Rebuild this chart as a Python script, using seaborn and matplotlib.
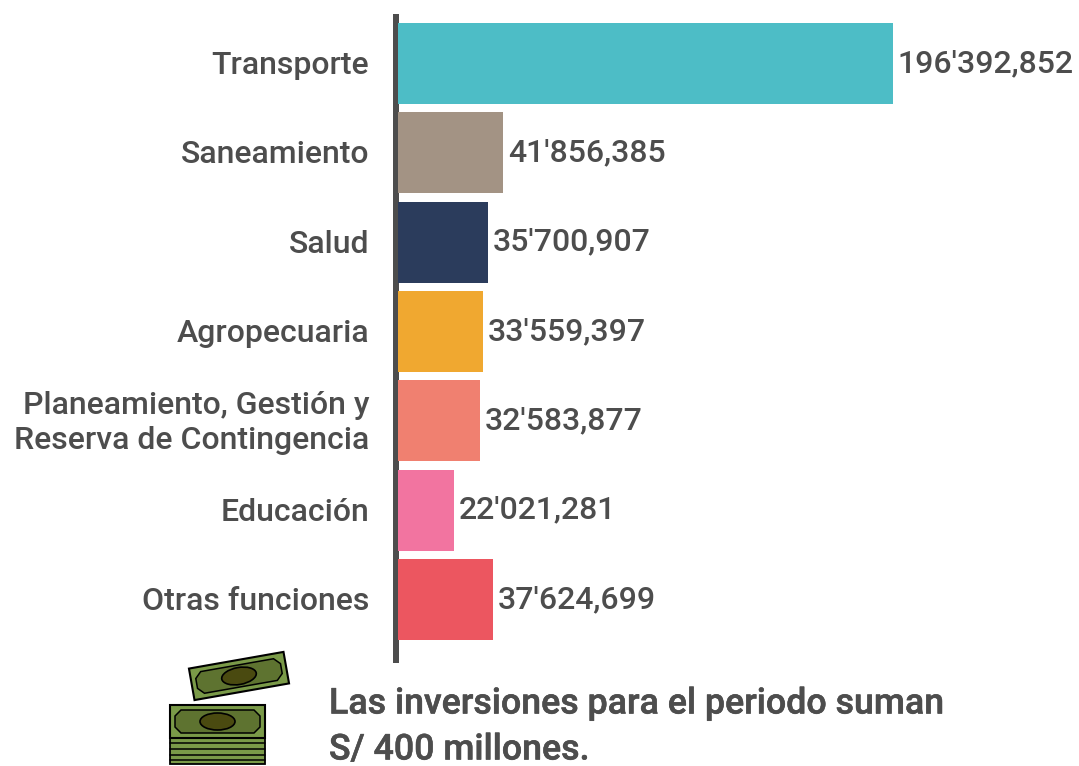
import matplotlib
matplotlib.use("Agg")
import matplotlib.pyplot as plt
import matplotlib.patheffects as pe
from matplotlib.patches import Polygon, Ellipse, Rectangle
from matplotlib.transforms import Affine2D
import pandas as pd
import seaborn as sns

categorias = ["Transporte", "Saneamiento", "Salud", "Agropecuaria",
              "Planeamiento, Gestión y\nReserva de Contingencia",
              "Educación", "Otras funciones"]
montos = [196392852, 41856385, 35700907, 33559397, 32583877, 22021281, 37624699]
etiquetas = ["196'392,852", "41'856,385", "35'700,907", "33'559,397",
             "32'583,877", "22'021,281", "37'624,699"]
colores = ["#4DBDC6", "#A39384", "#2B3C5C", "#F0A830", "#F08070", "#F274A0", "#EC5660"]
nota = "Las inversiones para el periodo suman\nS/ 400 millones."

W, H = 1079, 766
GRIS = "#4D4D4D"

sns.set_theme(style="white")
plt.rcParams["font.family"] = ["Roboto", "DejaVu Sans"]
plt.rcParams["font.weight"] = 500
plt.rcParams["ytick.labelsize"] = 23
plt.rcParams["ytick.labelcolor"] = GRIS
plt.rcParams["ytick.alignment"] = "center"

df = pd.DataFrame({"categoria": categorias, "monto": montos})

fig = plt.figure(figsize=(W / 100, H / 100), dpi=100, facecolor="white")
ax = fig.add_axes([398 / W, 1 - 663 / H, (W - 398) / W, 649 / H])

sns.barplot(data=df, y="categoria", x="monto", hue="categoria", palette=colores,
            order=categorias, hue_order=categorias, dodge=False, legend=False,
            width=0.906, saturation=1, linewidth=0, ax=ax)

ax.set_xlim(0, 196392852 * (W - 398) / 495)
ax.set_ylim(6.71, -0.554)
ax.set_xlabel("")
ax.set_ylabel("")
ax.set_xticks([])
ax.tick_params(axis="y", length=0, pad=19.2, labelsize=23, labelcolor=GRIS)

for s in ["top", "right", "bottom"]:
    ax.spines[s].set_visible(False)
ax.spines["left"].set_position(("outward", 1.44))
ax.spines["left"].set_linewidth(4.32)
ax.spines["left"].set_color(GRIS)
ax.spines["left"].set_zorder(0.5)
ax.spines["left"].set_capstyle("butt")

for i, cont in enumerate(ax.containers):
    ax.bar_label(cont, labels=[etiquetas[i]], padding=3.5, fontsize=23,
                 color=GRIS, clip_on=False)

# Nota inferior, un poco mas gruesa que medium
grueso = [pe.withStroke(linewidth=0.4, foreground=GRIS)]
fig.text(329 / W, 1 - 704 / H, nota.split("\n")[0], fontsize=25.7,
         color=GRIS, va="center", ha="left", path_effects=grueso)
fig.text(329 / W, 1 - 750 / H, nota.split("\n")[1], fontsize=25.7,
         color=GRIS, va="center", ha="left", path_effects=grueso)

# Icono de billetes, en una capa con coordenadas de pixel
icon = fig.add_axes([0, 0, 1, 1], facecolor="none")
icon.set_xlim(0, W)
icon.set_ylim(H, 0)
icon.axis("off")

VERDE, OSCURO, OJO = "#7A9A48", "#5E7330", "#4A4A10"


def billete(tr, x0, y0, x1, y1):
    icon.add_patch(Rectangle((x0, y0), x1 - x0, y1 - y0, fc=VERDE, ec="black", lw=1.5, transform=tr))
    c = 6
    m = 5
    pts = [(x0 + m + c, y0 + m), (x1 - m - c, y0 + m), (x1 - m, y0 + m + c),
           (x1 - m, y1 - m - c), (x1 - m - c, y1 - m), (x0 + m + c, y1 - m),
           (x0 + m, y1 - m - c), (x0 + m, y0 + m + c)]
    icon.add_patch(Polygon(pts, closed=True, fc=OSCURO, ec="black", lw=1.1, transform=tr))
    icon.add_patch(Ellipse(((x0 + x1) / 2, (y0 + y1) / 2), 35, 17, fc=OJO, ec="black", lw=1.2, transform=tr))


base = icon.transData
rot = Affine2D().rotate_deg_around(239, 676, -10) + base
billete(rot, 191, 660, 287, 692)
icon.add_patch(Rectangle((170, 737), 95, 27, fc=VERDE, ec="black", lw=1.3))
billete(base, 170, 705, 265, 738)
for yy in [743, 749, 755, 760]:
    icon.plot([170, 265], [yy, yy], color="black", lw=1.1)

# interlineado de las etiquetas de dos lineas y ajuste vertical de 2 px
fig.canvas.draw()
for lab in ax.get_yticklabels():
    lab.set_linespacing(1.29)
    lab.set_transform(lab.get_transform() + Affine2D().translate(0, -2))

fig.savefig("out.png", dpi=100)
